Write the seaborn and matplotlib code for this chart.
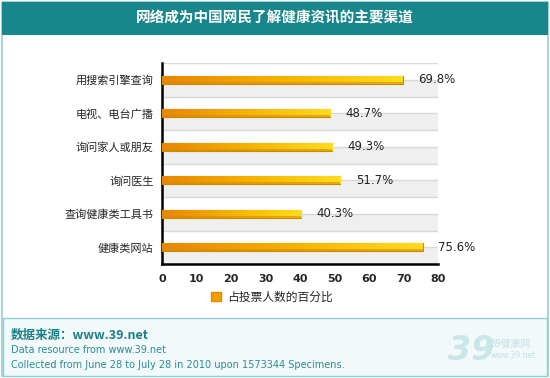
import numpy as np
import pandas as pd
import seaborn as sns
import matplotlib.pyplot as plt
from matplotlib.patches import Rectangle, Patch
from matplotlib.colors import LinearSegmentedColormap

# dados do gráfico
canais = ['用搜索引擎查询', '电视、电台广播', '询问家人或朋友', '询问医生', '查询健康类工具书', '健康类网站']
percentuais = [69.8, 48.7, 49.3, 51.7, 40.3, 75.6]
ticks_x = [0, 10, 20, 30, 40, 50, 60, 70, 80]
titulo = '网络成为中国网民了解健康资讯的主要渠道'
legenda = '占投票人数的百分比'
fonte_linhas = ['数据来源：www.39.net',
                'Data resource from www.39.net',
                'Collected from June 28 to July 28 in 2010 upon 1573344 Specimens.']

df = pd.DataFrame({'canal': canais, 'pct': percentuais})

sns.set_style('white')
plt.rcParams['font.family'] = ['Noto Sans CJK SC', 'DejaVu Sans']

W, H = 550, 378
fig = plt.figure(figsize=(W / 100, H / 100), dpi=100)
fig.patch.set_facecolor('white')

teal = '#17878b'
borda = '#8fcfd3'

def fx(px):
    return px / W

def fy(py):
    return 1 - py / H

# moldura, barra de título e rodapé
fig.add_artist(Rectangle((fx(2), fy(376)), fx(546), 374 / H, transform=fig.transFigure,
                         facecolor='white', edgecolor=borda, lw=1.2, zorder=0))
fig.add_artist(Rectangle((fx(3), fy(376)), fx(544), 58 / H, transform=fig.transFigure,
                         facecolor='#f1f9fa', edgecolor=borda, lw=1.0, zorder=0))
fig.add_artist(Rectangle((fx(2), fy(35)), fx(546), 33 / H, transform=fig.transFigure,
                         facecolor=teal, edgecolor='none', zorder=1))
fig.text(0.5, fy(18), titulo, color='white', fontsize=10.5, fontweight='bold',
         ha='center', va='center')

ax = fig.add_axes([fx(162), fy(264), fx(438 - 162), 201 / H])

sns.barplot(data=df, y='canal', x='pct', orient='h', ax=ax, width=0.24,
            color='#f5b400', edgecolor='#c98a00', linewidth=0.8, saturation=1, zorder=3)
barras = list(ax.patches)

n = len(canais)
ax.set_xlim(0, 80)
ax.set_ylim(n - 0.5, -0.5)
ax.autoscale(False)

# faixas cinzas e linhas de grade
for i in range(n):
    ax.axhspan(i, i + 0.5, color='#efefef', zorder=0, lw=0)
    ax.axhline(i, color='#d9d9d9', lw=1.0, zorder=1)
    ax.axhline(i - 0.5, color='#d9d9d9', lw=1.0, zorder=1)

# gradiente nas barras
cmap = LinearSegmentedColormap.from_list('laranja', ['#e88600', '#f5b300', '#ffdc1e'])
grad = np.linspace(0, 1, 256).reshape(1, -1)
for p in barras:
    x0, y0 = p.get_x(), p.get_y()
    w, h = p.get_width(), p.get_height()
    img = ax.imshow(grad, cmap=cmap, aspect='auto', extent=[x0, x0 + w, y0 + h, y0],
                    zorder=3.5, interpolation='bilinear')
    img.set_clip_path(p)
    ax.add_patch(Rectangle((x0, y0 + h * 0.72), w, h * 0.28, facecolor='#d88a00',
                           edgecolor='none', zorder=3.6, alpha=0.6))
ax.set_xlim(0, 80)
ax.set_ylim(n - 0.5, -0.5)

for i, v in enumerate(percentuais):
    ax.text(v + 4.5, i, f'{v}%', va='center', ha='left', fontsize=8.5,
            family='DejaVu Sans', color='#222222', zorder=5, clip_on=False)

ax.set_xlabel('')
ax.set_ylabel('')
ax.set_xticks(ticks_x)
ax.set_xticklabels([str(t) for t in ticks_x], fontsize=8, fontweight='bold', family='DejaVu Sans')
ax.set_yticks(range(n))
ax.set_yticklabels(canais, fontsize=8)
ax.set_yticks(np.arange(-0.5, n, 1), minor=True)
ax.tick_params(axis='y', which='major', length=0, pad=6)
ax.tick_params(axis='y', which='minor', length=4, width=1.5, direction='out', color='black')
ax.tick_params(axis='x', length=4, width=1.5, direction='out', color='black', pad=3)
for s in ['top', 'right']:
    ax.spines[s].set_visible(False)
for s in ['left', 'bottom']:
    ax.spines[s].set_color('black')
    ax.spines[s].set_linewidth(1.8)
ax.set_facecolor('white')

fig.legend(handles=[Patch(facecolor='#f2a000', edgecolor='#e08a00')], labels=[legenda],
           loc='center', bbox_to_anchor=(fx(272), fy(297)), frameon=False, fontsize=8.5,
           handlelength=0.9, handleheight=0.9, handletextpad=0.5)

# rodapé
fig.text(fx(11), fy(335), fonte_linhas[0], color='#1b7f86', fontsize=9, fontweight='bold',
         va='center', ha='left')
fig.text(fx(11), fy(350), fonte_linhas[1], color='#2b8c93', fontsize=7, va='center',
         ha='left', family='DejaVu Sans')
fig.text(fx(11), fy(365), fonte_linhas[2], color='#2b8c93', fontsize=7, va='center',
         ha='left', family='DejaVu Sans')
fig.text(fx(448), fy(350), '39', color='#c9e6e8', fontsize=24, fontweight='bold',
         fontstyle='italic', va='center', ha='left', family='DejaVu Sans')
fig.text(fx(491), fy(344), '39健康网', color='#c3e1e4', fontsize=7, va='center', ha='left')
fig.text(fx(491), fy(356), 'www.39.net', color='#c3e1e4', fontsize=5.5, va='center',
         ha='left', family='DejaVu Sans')

fig.savefig('out.png', dpi=100)
